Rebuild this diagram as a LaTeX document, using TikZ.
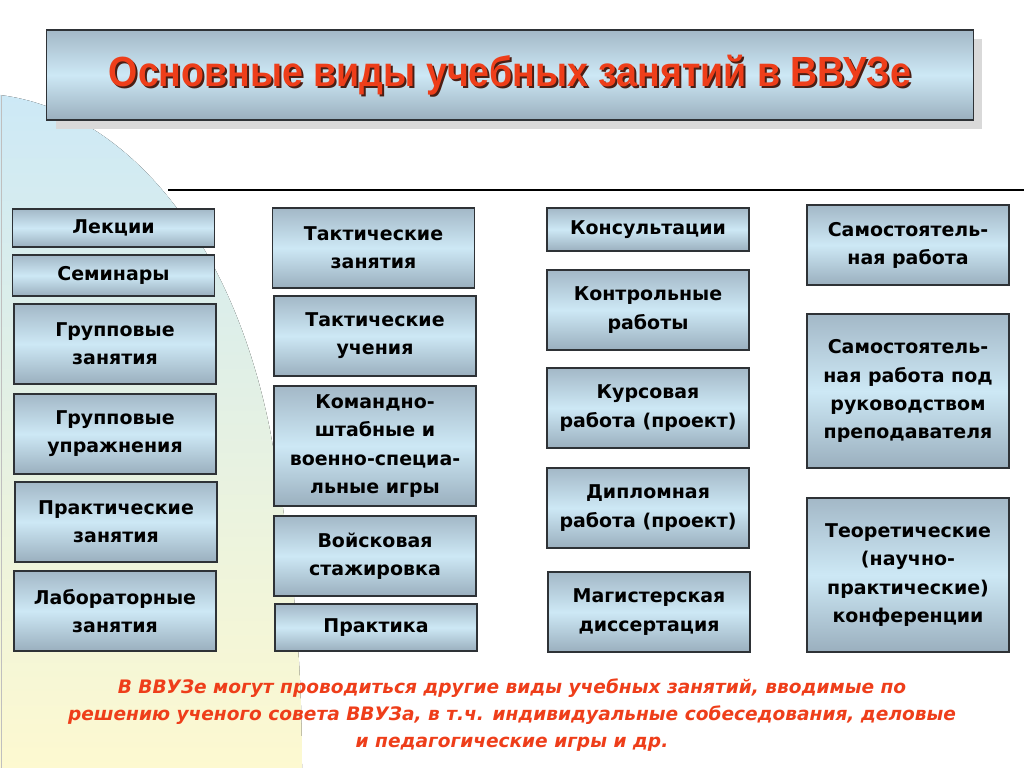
\documentclass[tikz,border=0pt]{standalone}
\usepackage{fontspec}
\setmainfont{DejaVu Sans}
\newfontfamily\titlefont[FakeStretch=0.89]{Liberation Sans}
\definecolor{boxtop}{HTML}{A3B8C7}
\definecolor{boxmid}{HTML}{CDE8F5}
\definecolor{boxbot}{HTML}{9AAFBE}
\definecolor{boxline}{HTML}{2E3236}
\definecolor{redtext}{HTML}{EE3E1A}
\definecolor{redshade}{HTML}{4A1E14}
\definecolor{bgblue}{HTML}{CDE9F6}
\definecolor{bgyellow}{HTML}{FDF9D0}

\begin{document}
\begin{tikzpicture}[x=0.025cm,y=-0.025cm]
    \tikzstyle{box}=[draw=boxline,line width=0.8pt,top color=boxtop,bottom color=boxbot,
        middle color=boxmid,minimum width=5.05cm,minimum height=2cm,align=center,
        font=\fontsize{13.5}{20}\selectfont\bfseries]
    \useasboundingbox (0,0) rectangle (1024,768);
    % background of the slide
    \fill[top color=bgblue,bottom color=bgyellow] (0,95) .. controls (120,110) and (230,230) .. (270,430)
        .. controls (290,540) and (302,640) .. (302,768) -- (0,768) -- cycle;
    \draw[gray!50] (1,95) -- (1,768);
    % title
    \fill[black!15] (56,39) rectangle (982,129);
    \node[box,minimum width=23.15cm,minimum height=2.25cm](ttl)at(510,75){};
    \node[font=\titlefont\fontsize{30}{30}\selectfont\bfseries,text=redshade]
        (ttlsh)at([shift={(2,2)}]ttl.center){Основные виды учебных занятий в ВВУЗе};
    \node[font=\titlefont\fontsize{30}{30}\selectfont\bfseries,text=redtext]
        (ttltxt)at(ttl.center){Основные виды учебных занятий в ВВУЗе};
    \draw[line width=1pt] (168,190) -- (1024,190);
    % first column
    \draw node[box,minimum height=0.95cm](lek)at(113.5,228){Лекции}
          node[box,minimum height=1.025cm](sem)at(113.5,275.5){Семинары}
          node[box](grz)at(115,344){Групповые\\занятия}
          node[box](gru)at(115,434){Групповые\\упражнения}
          node[box](prz)at(116,522){Практические\\занятия}
          node[box](lab)at(115,611){Лабораторные\\занятия};
    % second column
    \draw node[box](tz)at(373.5,248){Тактические\\занятия}
          node[box](tu)at(375,336){Тактические\\учения}
          node[box,minimum height=3cm](ksh)at(375,446){Командно-\\штабные и\\военно-специа-\\льные игры}
          node[box](vs)at(375,556){Войсковая\\стажировка}
          node[box,minimum height=1.175cm](pr)at(376,627.5){Практика};
    % third column
    \draw node[box,minimum height=1.075cm](kons)at(648,229.5){Консультации}
          node[box](kr)at(648,310){Контрольные\\работы}
          node[box](kurs)at(648,408){Курсовая\\работа (проект)}
          node[box](dipl)at(648,508){Дипломная\\работа (проект)}
          node[box](mag)at(649,612){Магистерская\\диссертация};
    % fourth column
    \draw node[box](sr)at(908,245){Самостоятель-\\ная работа}
          node[box,minimum height=3.85cm](srp)at(908,391){Самостоятель-\\ная работа под\\руководством\\преподавателя}
          node[box,minimum height=3.85cm](konf)at(908,575){Теоретические\\(научно-\\практические)\\конференции};
    % note below
    \node[align=center,text=redtext,font=\fontsize{13.2}{19.5}\selectfont\bfseries\itshape]
        (note)at(512,715){В ВВУЗе могут проводиться другие виды учебных занятий, вводимые по\\
        решению ученого совета ВВУЗа, в т.ч. индивидуальные собеседования, деловые\\
        и педагогические игры и др.};
\end{tikzpicture}
\end{document}
